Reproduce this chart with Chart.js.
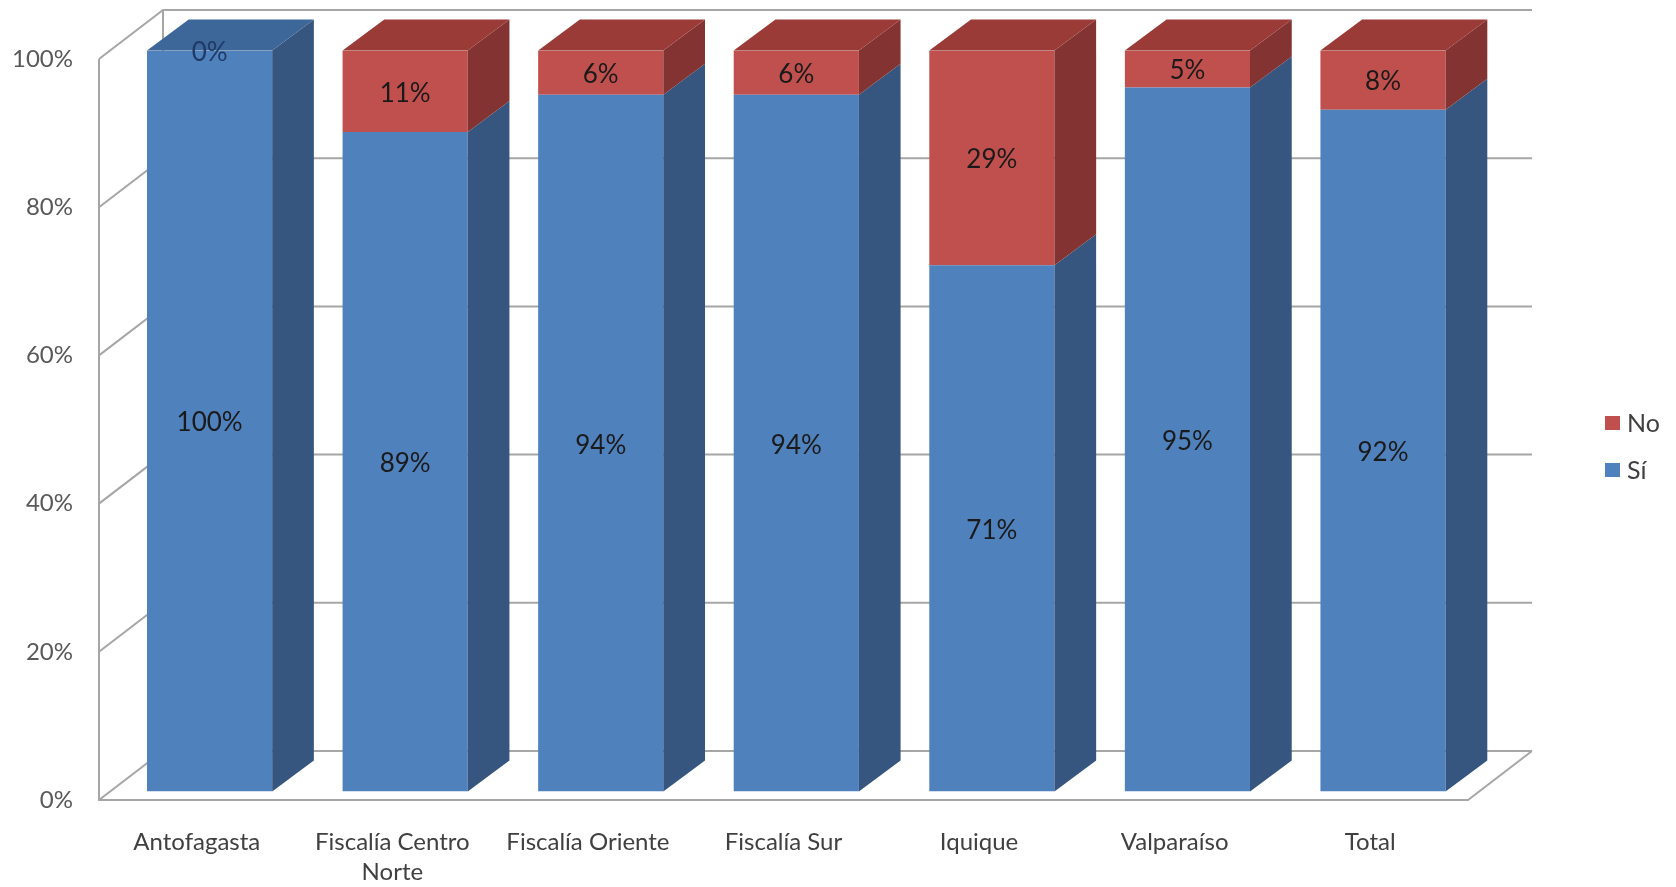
<!DOCTYPE html>
<html>
<head>
<meta charset="utf-8">
<script src="https://cdn.jsdelivr.net/npm/chart.js@4.4.1/dist/chart.umd.min.js"></script>
<style>
    html, body { margin: 0; padding: 0; background: #ffffff; }
    #cadre { width: 1676px; height: 887px; }
</style>
</head>
<body>
<div id="cadre"><canvas id="graphique-fiscalias"></canvas></div>
<script>
// Données du graphique
const categorias = [["Antofagasta"], ["Fiscalía Centro", "Norte"], ["Fiscalía Oriente"], ["Fiscalía Sur"], ["Iquique"], ["Valparaíso"], ["Total"]];
const valoresSi = [100, 89, 94, 94, 71, 95, 92];
const valoresNo = [0, 11, 6, 6, 29, 5, 8];
const ticksY = [0, 20, 40, 60, 80, 100];

const police = "Lato, 'Open Sans', sans-serif";

// Profondeur de la paroi du fond, décalage et épaisseur des barres
const paroi = { dx: 64, dy: -49 };
const decalage = { dx: 12.8, dy: -8.6 };
const epaisseur = { dx: 41.7, dy: -31 };

const couleurs = [
    { face: "#4F81BD", cote: "#36567F", dessus: "#3D6699" },
    { face: "#C0504D", cote: "#833331", dessus: "#9A3B38" },
];

function polygone(ctx, points, couleur) {
    ctx.beginPath();
    ctx.moveTo(points[0][0], points[0][1]);
    for (let i = 1; i < points.length; i++) {
        ctx.lineTo(points[i][0], points[i][1]);
    }
    ctx.closePath();
    ctx.fillStyle = couleur;
    ctx.fill();
}

const plugin3d = {
    id: "barres3d",
    beforeDatasetsDraw(chart) {
        const ctx = chart.ctx;
        const zone = chart.chartArea;
        const y = chart.scales.y;

        // Paroi du fond et lignes de la grille
        ctx.save();
        ctx.strokeStyle = "#A6A6A6";
        ctx.lineWidth = 2;
        for (const v of ticksY) {
            const py = y.getPixelForValue(v);
            ctx.beginPath();
            ctx.moveTo(zone.left, py);
            ctx.lineTo(zone.left + paroi.dx, py + paroi.dy);
            ctx.lineTo(zone.right + paroi.dx, py + paroi.dy);
            ctx.stroke();
        }
        // axe vertical, bord du sol
        ctx.beginPath();
        ctx.moveTo(zone.left, zone.top);
        ctx.lineTo(zone.left, zone.bottom);
        ctx.lineTo(zone.right, zone.bottom);
        ctx.lineTo(zone.right + paroi.dx, zone.bottom + paroi.dy);
        ctx.stroke();
        ctx.beginPath();
        ctx.moveTo(zone.left + paroi.dx, zone.top + paroi.dy);
        ctx.lineTo(zone.left + paroi.dx, zone.bottom + paroi.dy);
        ctx.stroke();
        ctx.restore();

        ctx.save();
        ctx.translate(decalage.dx, decalage.dy);
    },
    afterDatasetsDraw(chart) {
        const ctx = chart.ctx;
        const series = [valoresSi, valoresNo];

        // Faces latérales
        for (let d = 0; d < series.length; d++) {
            const meta = chart.getDatasetMeta(d);
            meta.data.forEach((barre) => {
                const p = barre.getProps(["x", "y", "base", "width"], true);
                const droite = p.x + p.width / 2;
                polygone(ctx, [
                    [droite, p.y],
                    [droite + epaisseur.dx, p.y + epaisseur.dy],
                    [droite + epaisseur.dx, p.base + epaisseur.dy],
                    [droite, p.base],
                ], couleurs[d].cote);
            });
        }

        // Dessus de chaque pile : couleur du dernier segment non nul
        for (let i = 0; i < categorias.length; i++) {
            let d = series.length - 1;
            while (d > 0 && series[d][i] === 0) d--;
            const p = chart.getDatasetMeta(d).data[i].getProps(["x", "y", "width"], true);
            const gauche = p.x - p.width / 2;
            const droite = p.x + p.width / 2;
            polygone(ctx, [
                [gauche, p.y],
                [gauche + epaisseur.dx, p.y + epaisseur.dy],
                [droite + epaisseur.dx, p.y + epaisseur.dy],
                [droite, p.y],
            ], couleurs[d].dessus);
        }

        // Étiquettes des valeurs
        ctx.font = "26px " + police;
        ctx.textAlign = "center";
        ctx.textBaseline = "middle";
        for (let d = 0; d < series.length; d++) {
            const meta = chart.getDatasetMeta(d);
            meta.data.forEach((barre, i) => {
                const p = barre.getProps(["x", "y", "base"], true);
                ctx.fillStyle = series[d][i] === 0 ? "#1F3A66" : "#1A1A1A";
                ctx.fillText(series[d][i] + "%", p.x, (p.y + p.base) / 2 + 2);
            });
        }
        ctx.restore();
    },
    afterDraw(chart) {
        // Légende
        const ctx = chart.ctx;
        const legende = [
            { texte: "No", couleur: couleurs[1].face, y: 423 },
            { texte: "Sí", couleur: couleurs[0].face, y: 470 },
        ];
        ctx.save();
        ctx.font = "25px " + police;
        ctx.textBaseline = "middle";
        ctx.textAlign = "left";
        for (const item of legende) {
            ctx.fillStyle = item.couleur;
            ctx.fillRect(1605, item.y - 7, 15, 14);
            ctx.fillStyle = "#404040";
            ctx.fillText(item.texte, 1627, item.y + 1);
        }
        ctx.restore();
    },
};

const data = {
    labels: categorias,
    datasets: [
        {
            label: "Sí",
            data: valoresSi,
            backgroundColor: couleurs[0].face,
            borderWidth: 0,
            barPercentage: 0.64,
            categoryPercentage: 1,
        },
        {
            label: "No",
            data: valoresNo,
            backgroundColor: couleurs[1].face,
            borderWidth: 0,
            barPercentage: 0.64,
            categoryPercentage: 1,
        },
    ],
};

const config = {
    type: "bar",
    data: data,
    options: {
        responsive: true,
        maintainAspectRatio: false,
        animation: false,
        layout: {
            padding: { top: 59, right: 208, bottom: 0, left: 0 },
        },
        plugins: {
            legend: { display: false },
            tooltip: { enabled: false },
        },
        scales: {
            x: {
                stacked: true,
                grid: { display: false, drawTicks: false },
                border: { display: false },
                ticks: {
                    padding: 27,
                    color: "#404040",
                    font: { family: police, size: 24, lineHeight: 1.25 },
                    maxRotation: 0,
                    autoSkip: false,
                },
                afterFit(scale) { scale.height = 87; },
            },
            y: {
                stacked: true,
                min: 0,
                max: 100,
                grid: { display: false, drawTicks: false },
                border: { display: false },
                ticks: {
                    stepSize: 20,
                    padding: 26,
                    color: "#595959",
                    font: { family: police, size: 24 },
                    callback: (v) => v + "%",
                },
                afterFit(scale) { scale.width = 99; },
            },
        },
    },
    plugins: [plugin3d],
};

new Chart(document.querySelector("#graphique-fiscalias"), config);
</script>
</body>
</html>
